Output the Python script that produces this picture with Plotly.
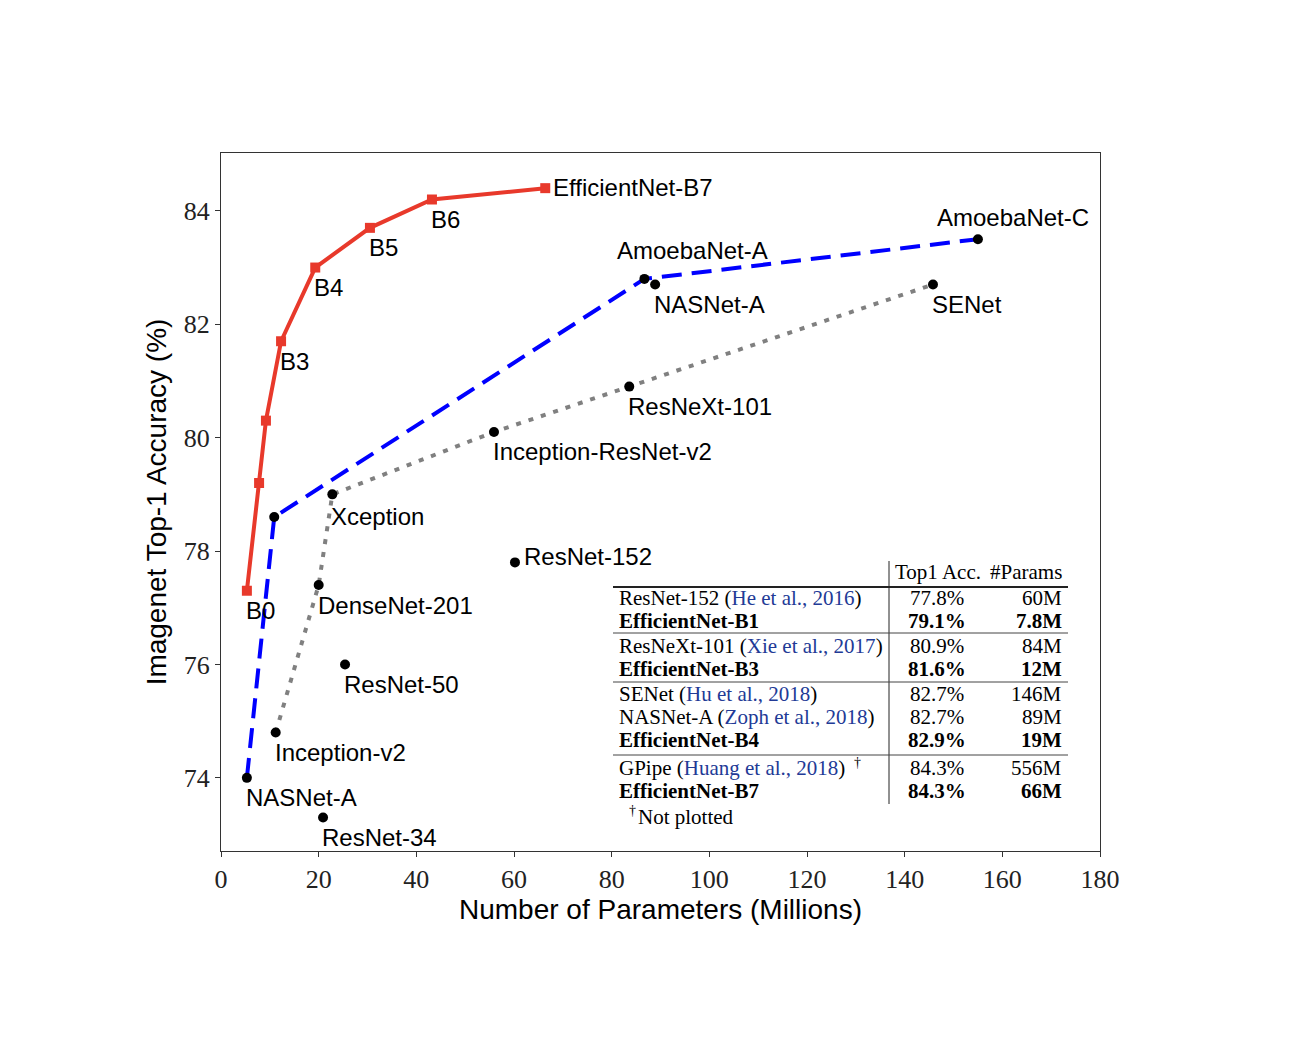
import plotly.graph_objects as go

# EfficientNet family (red)
eff_names = ["B0", "B1", "B2", "B3", "B4", "B5", "B6", "EfficientNet-B7"]
eff_params = [5.3, 7.8, 9.2, 12.3, 19.3, 30.5, 43.2, 66.4]
eff_acc = [77.3, 79.2, 80.3, 81.7, 83.0, 83.7, 84.2, 84.4]

# NAS models (blue dashed)
nas_names = ["NASNet-A", "", "AmoebaNet-A", "AmoebaNet-C"]
nas_params = [5.3, 10.9, 86.7, 155.0]
nas_acc = [74.0, 78.6, 82.8, 83.5]

# hand-designed models (gray dotted)
hand_names = ["Inception-v2", "DenseNet-201", "Xception", "Inception-ResNet-v2", "ResNeXt-101", "SENet"]
hand_params = [11.2, 20.0, 22.8, 55.9, 83.6, 145.8]
hand_acc = [74.8, 77.4, 79.0, 80.1, 80.9, 82.7]

# standalone points
other_names = ["NASNet-A", "ResNet-152", "ResNet-50", "ResNet-34"]
other_params = [88.9, 60.2, 25.4, 20.9]
other_acc = [82.7, 77.8, 76.0, 73.3]

# inset table
tbl_models = ["ResNet-152", "EfficientNet-B1", "ResNeXt-101", "EfficientNet-B3", "SENet",
              "NASNet-A", "EfficientNet-B4", "GPipe", "EfficientNet-B7"]
tbl_cites = ["He et al., 2016", "", "Xie et al., 2017", "", "Hu et al., 2018",
             "Zoph et al., 2018", "", "Huang et al., 2018", ""]
tbl_acc = ["77.8%", "79.1%", "80.9%", "81.6%", "82.7%", "82.7%", "82.9%", "84.3%", "84.3%"]
tbl_params = ["60M", "7.8M", "84M", "12M", "146M", "89M", "19M", "556M", "66M"]

RED = "#e8392b"
BLUE = "#0000ff"
GRAY = "#808080"
CITE = "#223a96"
SANS = "Liberation Sans"
SERIF = "Liberation Serif"

W, H = 1314, 1054
OFF = 8  # page offset seen in the screenshot
L, R, T, B = 221, 1100, 153, 851


def px(x):
    return (x - L) / (R - L)


def py(y):
    return (B - y) / (B - T)


fig = go.Figure()

fig.add_trace(go.Scatter(
    x=hand_params, y=hand_acc, mode="lines",
    line=dict(color=GRAY, width=4, dash="5px,8px"), hoverinfo="skip"))
fig.add_trace(go.Scatter(
    x=nas_params, y=nas_acc, mode="lines",
    line=dict(color=BLUE, width=4, dash="20px,10px"), hoverinfo="skip"))
fig.add_trace(go.Scatter(
    x=nas_params + hand_params + other_params,
    y=nas_acc + hand_acc + other_acc,
    mode="markers", marker=dict(color="black", size=10)))
fig.add_trace(go.Scatter(
    x=eff_params, y=eff_acc, mode="lines+markers",
    line=dict(color=RED, width=4),
    marker=dict(symbol="square", size=10, color=RED)))

ann = []


def label(text, x, y, dx=-3, dy=-20, xanchor="left"):
    ann.append(dict(x=x, y=y, xref="x", yref="y", text=text, showarrow=False,
                    xanchor=xanchor, yanchor="middle", xshift=dx, yshift=dy,
                    font=dict(family=SANS, size=24, color="black")))


for n, x, y in zip(eff_names, eff_params, eff_acc):
    if n in ("B1", "B2"):
        continue
    if n == "EfficientNet-B7":
        label(n, x, y, dx=6, dy=1)
    else:
        label(n, x, y)

label(nas_names[0], nas_params[0], nas_acc[0])
label(nas_names[2], nas_params[2], nas_acc[2], dx=-29, dy=28)
label(nas_names[3], nas_params[3], nas_acc[3], dx=-43, dy=22)

for n, x, y in zip(hand_names, hand_params, hand_acc):
    label(n, x, y, dy=-20 if n != "Xception" else -22)

for n, x, y in zip(other_names, other_params, other_acc):
    if n == "ResNet-152":
        label(n, x, y, dx=7, dy=6)
    else:
        label(n, x, y, dy=-20)

# ---- inset table ----
TF = dict(family=SERIF, size=21, color="black")
SUP = dict(family=SERIF, size=14, color="black")
col_name, col_acc, col_par = 617, 937, 1064
row_y = [598, 621, 646, 669, 694, 717, 740, 768, 791]


def cell(text, x, y, anchor, font=TF):
    ann.append(dict(x=px(x), y=py(y), xref="paper", yref="paper", text=text,
                    showarrow=False, xanchor=anchor, yanchor="middle", font=font))


cell("Top1 Acc.", 893, 572, "left")
cell("#Params", col_par, 572, "right")

for i, yy in enumerate(row_y):
    if tbl_models[i].startswith("EfficientNet"):
        name = "<b>%s</b>" % tbl_models[i]
        acc = "<b>%s</b>" % tbl_acc[i]
        par = "<b>%s</b>" % tbl_params[i]
    else:
        name = '%s (<span style="color:%s">%s</span>)' % (tbl_models[i], CITE, tbl_cites[i])
        acc = tbl_acc[i]
        par = tbl_params[i]
    cell(name, col_name, yy, "left")
    cell(acc, col_acc, yy, "center")
    cell(par, col_par, yy, "right")

cell("†", 852, 762, "left", SUP)
cell("†", 627, 810, "left", SUP)
cell("Not plotted", 636, 817, "left")

shapes = [
    dict(type="line", xref="paper", yref="paper", x0=px(889), x1=px(889), y0=py(561), y1=py(804),
         line=dict(color="#222", width=1)),
    dict(type="line", xref="paper", yref="paper", x0=px(613), x1=px(1068), y0=py(587), y1=py(587),
         line=dict(color="#222", width=2)),
]
for yy in (633, 682, 755):
    shapes.append(dict(type="line", xref="paper", yref="paper", x0=px(613), x1=px(1068),
                       y0=py(yy), y1=py(yy), line=dict(color="#444", width=1)))

fig.update_layout(
    width=W, height=H,
    margin=dict(l=L - OFF, r=W - R + OFF, t=T - OFF, b=H - B + OFF),
    plot_bgcolor="white", paper_bgcolor="white",
    showlegend=False,
    annotations=ann, shapes=shapes,
)
fig.update_xaxes(
    range=[0, 180], tickvals=[0, 20, 40, 60, 80, 100, 120, 140, 160, 180],
    showgrid=False, zeroline=False, showline=True, mirror=True,
    linecolor="#333", linewidth=1, ticks="outside", ticklen=5, tickcolor="#333",
    tickfont=dict(family=SERIF, size=26, color="#222"),
    title=dict(text="Number of Parameters (Millions)", standoff=0,
               font=dict(family=SANS, size=28, color="black")),
)
fig.update_yaxes(
    range=[72.71, 85.02], tickvals=[74, 76, 78, 80, 82, 84],
    showgrid=False, zeroline=False, showline=True, mirror=True,
    linecolor="#333", linewidth=1, ticks="outside", ticklen=5, tickcolor="#333",
    tickfont=dict(family=SERIF, size=26, color="#222"),
    title=dict(text="Imagenet Top-1 Accuracy (%)", standoff=8,
               font=dict(family=SANS, size=28, color="black")),
)

fig.write_html("out.html")
